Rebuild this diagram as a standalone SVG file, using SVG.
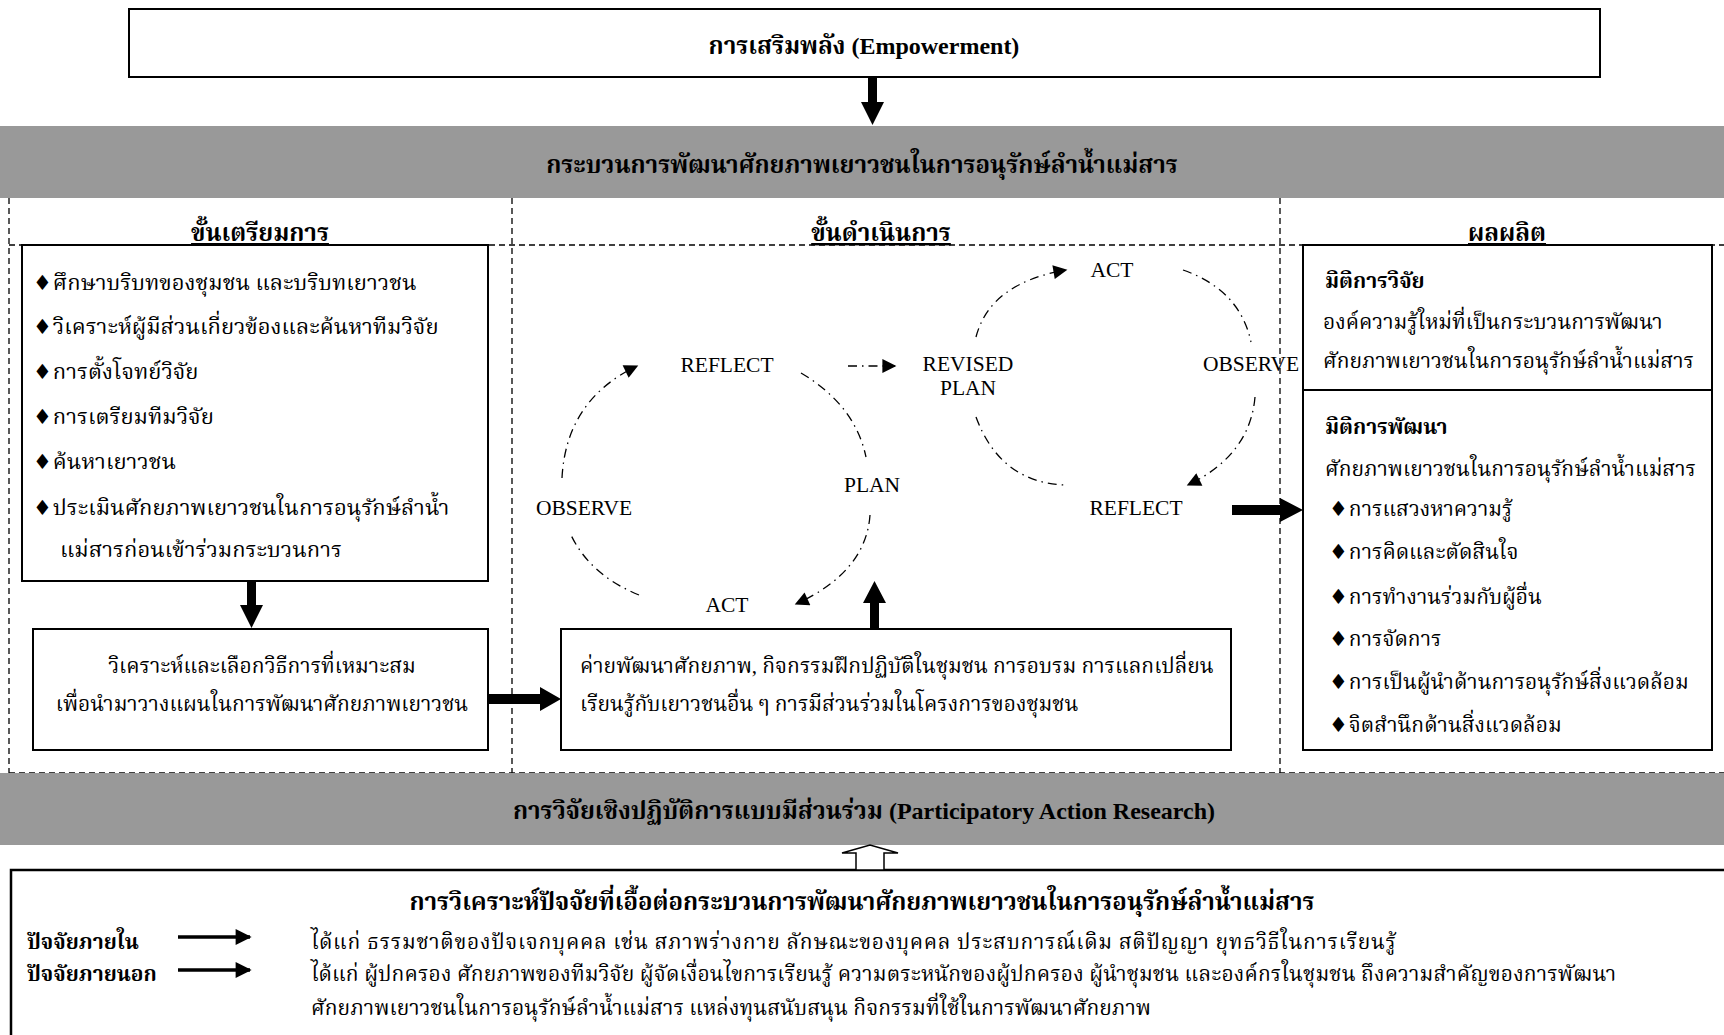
<svg xmlns="http://www.w3.org/2000/svg" width="1724" height="1035" viewBox="0 0 1724 1035">
<style>
text{font-family:"Liberation Serif","Noto Serif Thai","Noto Sans Thai","Noto Sans",serif;fill:#000}
.t{font-size:21px}
.tl{font-size:22px}
.h{font-size:24px;font-weight:bold}
.b{font-weight:bold}
.m{text-anchor:middle}
.lat{font-size:21.5px}
.dm{font-family:"DejaVu Sans",sans-serif;font-size:21px}
.box{fill:#fff;stroke:#000;stroke-width:2}
.band{fill:#999;stroke:none}
.dash{stroke:#000;stroke-width:1.3;stroke-dasharray:6 4;fill:none}
.dd{stroke:#000;stroke-width:1.3;stroke-dasharray:9 5 1.5 5;fill:none}
.solid{fill:#000;stroke:none}
</style>
<defs>
<marker id="ah" viewBox="0 0 10 10" refX="9" refY="5" markerWidth="16" markerHeight="14" markerUnits="userSpaceOnUse" orient="auto">
<path d="M0,0 L10,5 L0,10 z" fill="#000"/>
</marker>
<marker id="ah2" viewBox="0 0 10 10" refX="9" refY="5" markerWidth="22" markerHeight="16" markerUnits="userSpaceOnUse" orient="auto">
<path d="M0,0 L10,5 L0,10 z" fill="#000"/>
</marker>
</defs>
<rect x="0" y="0" width="1724" height="1035" fill="#fff"/>

<g id="empowerment">
<rect class="box" x="129" y="9" width="1471" height="68" stroke-width="2.5"/>
<text class="h m" x="864" y="54">การเสริมพลัง (Empowerment)</text>
</g>

<g id="process-band">
<rect class="band" x="0" y="126" width="1724" height="72"/>
<text class="h m" x="862" y="173">กระบวนการพัฒนาศักยภาพเยาวชนในการอนุรักษ์ลำน้ำแม่สาร</text>
</g>

<g id="frame">
<line class="dash" x1="9" y1="198" x2="9" y2="773"/>
<line class="dash" x1="512" y1="198" x2="512" y2="773"/>
<line class="dash" x1="1280" y1="198" x2="1280" y2="773"/>
<line class="dash" x1="9" y1="245" x2="1724" y2="245"/>
<line class="dash" x1="9" y1="773" x2="1724" y2="773"/>
<text class="h m" x="260" y="241" text-decoration="underline">ขั้นเตรียมการ</text>
<text class="h m" x="881" y="241" text-decoration="underline">ขั้นดำเนินการ</text>
<text class="h m" x="1507" y="241" text-decoration="underline">ผลผลิต</text>
</g>

<g id="preparation">
<rect class="box" x="22" y="245" width="466" height="336"/>
<text class="tl" x="33" y="290"><tspan class="dm">♦</tspan><tspan dx="1">ศึกษาบริบทของชุมชน และบริบทเยาวชน</tspan></text>
<text class="tl" x="33" y="334"><tspan class="dm">♦</tspan><tspan dx="1">วิเคราะห์ผู้มีส่วนเกี่ยวข้องและค้นหาทีมวิจัย</tspan></text>
<text class="tl" x="33" y="379"><tspan class="dm">♦</tspan><tspan dx="1">การตั้งโจทย์วิจัย</tspan></text>
<text class="tl" x="33" y="424"><tspan class="dm">♦</tspan><tspan dx="1">การเตรียมทีมวิจัย</tspan></text>
<text class="tl" x="33" y="469"><tspan class="dm">♦</tspan><tspan dx="1">ค้นหาเยาวชน</tspan></text>
<text class="tl" x="33" y="515"><tspan class="dm">♦</tspan><tspan dx="1">ประเมินศักยภาพเยาวชนในการอนุรักษ์ลำน้ำ</tspan></text>
<text class="tl" x="60" y="557">แม่สารก่อนเข้าร่วมกระบวนการ</text>
</g>

<g id="analysis">
<rect class="box" x="33" y="629" width="455" height="121"/>
<text class="t m" x="262" y="673">วิเคราะห์และเลือกวิธีการที่เหมาะสม</text>
<text class="t m" x="262" y="711">เพื่อนำมาวางแผนในการพัฒนาศักยภาพเยาวชน</text>
</g>

<g id="activities">
<rect class="box" x="561" y="629" width="670" height="121"/>
<text class="t" x="580" y="673">ค่ายพัฒนาศักยภาพ, กิจกรรมฝึกปฏิบัติในชุมชน การอบรม  การแลกเปลี่ยน</text>
<text class="t" x="580" y="711">เรียนรู้กับเยาวชนอื่น ๆ การมีส่วนร่วมในโครงการของชุมชน</text>
</g>

<g id="cycle1">
<text class="lat m" x="727" y="372">REFLECT</text>
<text class="lat m" x="584" y="515">OBSERVE</text>
<text class="lat m" x="872" y="492">PLAN</text>
<text class="lat m" x="727" y="612">ACT</text>
</g>

<g id="cycle2">
<text class="lat m" x="968" y="371">REVISED</text>
<text class="lat m" x="968" y="395">PLAN</text>
<text class="lat m" x="1112" y="277">ACT</text>
<text class="lat m" x="1251" y="371">OBSERVE</text>
<text class="lat m" x="1136" y="515">REFLECT</text>
</g>

<g id="outputs">
<rect class="box" x="1303" y="245" width="409" height="505"/>
<line x1="1303" y1="390" x2="1712" y2="390" stroke="#000" stroke-width="2"/>
<text class="t b" x="1325" y="288">มิติการวิจัย</text>
<text class="t" x="1323" y="329">องค์ความรู้ใหม่ที่เป็นกระบวนการพัฒนา</text>
<text class="t" x="1323" y="368">ศักยภาพเยาวชนในการอนุรักษ์ลำน้ำแม่สาร</text>
<text class="t b" x="1325" y="434">มิติการพัฒนา</text>
<text class="t" x="1325" y="476">ศักยภาพเยาวชนในการอนุรักษ์ลำน้ำแม่สาร</text>
<text class="t" x="1329" y="516"><tspan class="dm">♦</tspan><tspan dx="1">การแสวงหาความรู้</tspan></text>
<text class="t" x="1329" y="559"><tspan class="dm">♦</tspan><tspan dx="1">การคิดและตัดสินใจ</tspan></text>
<text class="t" x="1329" y="604"><tspan class="dm">♦</tspan><tspan dx="1">การทำงานร่วมกับผู้อื่น</tspan></text>
<text class="t" x="1329" y="646"><tspan class="dm">♦</tspan><tspan dx="1">การจัดการ</tspan></text>
<text class="t" x="1329" y="689"><tspan class="dm">♦</tspan><tspan dx="1">การเป็นผู้นำด้านการอนุรักษ์สิ่งแวดล้อม</tspan></text>
<text class="t" x="1329" y="732"><tspan class="dm">♦</tspan><tspan dx="1">จิตสำนึกด้านสิ่งแวดล้อม</tspan></text>
</g>

<g id="par-band">
<rect class="band" x="0" y="773" width="1724" height="72"/>
<text class="h m" x="864" y="819">การวิจัยเชิงปฏิบัติการแบบมีส่วนร่วม (Participatory Action Research)</text>
</g>

<g id="factors">
<rect x="11" y="870" width="1725" height="175" fill="#fff" stroke="#000" stroke-width="2.5"/>
<text class="h m" x="862" y="910">การวิเคราะห์ปัจจัยที่เอื้อต่อกระบวนการพัฒนาศักยภาพเยาวชนในการอนุรักษ์ลำน้ำแม่สาร</text>
<text class="t b" x="27" y="949">ปัจจัยภายใน</text>
<text class="t b" x="27" y="981">ปัจจัยภายนอก</text>
<text class="t" x="311" y="949" textLength="1085" lengthAdjust="spacing">ได้แก่ ธรรมชาติของปัจเจกบุคคล เช่น สภาพร่างกาย ลักษณะของบุคคล ประสบการณ์เดิม  สติปัญญา ยุทธวิธีในการเรียนรู้</text>
<text class="t" x="311" y="981" textLength="1305" lengthAdjust="spacing">ได้แก่ ผู้ปกครอง  ศักยภาพของทีมวิจัย  ผู้จัดเงื่อนไขการเรียนรู้ ความตระหนักของผู้ปกครอง ผู้นำชุมชน และองค์กรในชุมชน ถึงความสำคัญของการพัฒนา</text>
<text class="t" x="311" y="1015" textLength="840" lengthAdjust="spacing">ศักยภาพเยาวชนในการอนุรักษ์ลำน้ำแม่สาร แหล่งทุนสนับสนุน กิจกรรมที่ใช้ในการพัฒนาศักยภาพ</text>
</g>

<g id="connectors">
<polygon class="solid" points="868,77 877,77 877,102 884,102 872.5,125 861,102 868,102"/>
<polygon class="solid" points="247,581 256,581 256,605 263,605 251.5,628 240,605 247,605"/>
<polygon class="solid" points="488,694 540,694 540,687 561,699 540,711 540,704 488,704"/>
<polygon class="solid" points="870,629 879,629 879,603 886,603 874.5,581 863,603 870,603"/>
<polygon class="solid" points="1232,505 1280,505 1280,498 1303,510 1280,522 1280,515 1232,515"/>
<path class="dd" d="M562,478 Q566,400 637,366" marker-end="url(#ah)"/>
<path class="dd" d="M801,373 Q855,405 866,457"/>
<path class="dd" d="M870,515 Q866,572 796,604" marker-end="url(#ah)"/>
<path class="dd" d="M639,595 Q590,575 571,535"/>
<path class="dd" d="M848,366 L895,366" marker-end="url(#ah)"/>
<path class="dd" d="M976,337 Q990,283 1066,270" marker-end="url(#ah)"/>
<path class="dd" d="M1183,270 Q1240,290 1251,342"/>
<path class="dd" d="M1255,397 Q1250,455 1188,485" marker-end="url(#ah)"/>
<path class="dd" d="M976,417 Q1000,482 1064,485"/>
<polygon points="856,870 856,853 842,853 870,845 898,853 884,853 884,870" fill="#fff" stroke="#000" stroke-width="1.5"/>
<line x1="178" y1="937" x2="250" y2="937" stroke="#000" stroke-width="3.5" marker-end="url(#ah2)"/>
<line x1="178" y1="970" x2="250" y2="970" stroke="#000" stroke-width="3.5" marker-end="url(#ah2)"/>
</g>
</svg>
